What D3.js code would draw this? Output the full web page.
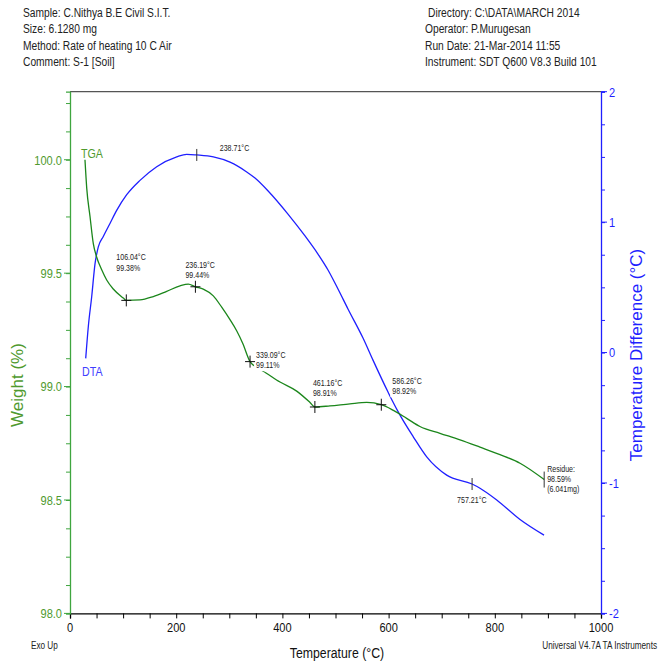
<!DOCTYPE html>
<html>
<head>
<meta charset="utf-8">
<script src="https://cdn.jsdelivr.net/npm/d3@7"></script>
<style>
  body { margin: 0; background: #fff; }
  svg { display: block; }
</style>
</head>
<body>
<svg id="chart" width="669" height="664"></svg>
<script>
// ---- TGA: weight (%) vs temperature (°C)
const tgaTemp = [28.2, 31.5, 37.7, 43.9, 50.3, 59.7, 69.1, 81.5, 100.4, 106.04, 131.8, 156.9, 182.1, 207.2, 222.8, 236.19, 251, 269.9, 285.7, 301.3, 314.1, 325.4, 339.09, 352, 369.1, 395.5, 426.9, 452, 461.16, 489.6, 527.3, 558.8, 586.26, 609, 634, 659, 696.8, 734.5, 772.1, 809.8, 847.5, 893];
const tgaWeight = [100.0, 99.875, 99.75, 99.63, 99.57, 99.515, 99.47, 99.43, 99.39, 99.38, 99.382, 99.397, 99.42, 99.444, 99.452, 99.44, 99.43, 99.40, 99.35, 99.295, 99.245, 99.19, 99.11, 99.085, 99.06, 99.02, 98.98, 98.93, 98.91, 98.915, 98.924, 98.93, 98.92, 98.895, 98.86, 98.824, 98.794, 98.765, 98.733, 98.70, 98.662, 98.59];

// ---- DTA: temperature difference (°C) vs temperature (°C)
const dtaTemp = [29.6, 34.5, 40.9, 47.1, 53.3, 62.7, 75.3, 87.9, 106.8, 131.8, 163.3, 201, 219.8, 238.71, 270, 301.3, 332.8, 348.4, 373.1, 410.5, 442.6, 467.0, 485.9, 504.7, 523.5, 551.8, 570.6, 598.9, 605.8, 621.5, 646.5, 671.8, 709.4, 757.21, 772.1, 803.6, 847.5, 892.7];
const dtaDiff = [-0.045, 0.20, 0.43, 0.68, 0.81, 0.89, 0.99, 1.09, 1.21, 1.32, 1.425, 1.50, 1.52, 1.515, 1.50, 1.46, 1.385, 1.338, 1.239, 1.062, 0.894, 0.755, 0.633, 0.487, 0.334, 0.111, -0.058, -0.303, -0.36, -0.48, -0.646, -0.80, -0.94, -1.008, -1.04, -1.13, -1.28, -1.40];

// ---- Axis ticks
const tempTicks = [0, 200, 400, 600, 800, 1000];
const weightTicks = [98.0, 98.5, 99.0, 99.5, 100.0];
const diffTicks = [-2, -1, 0, 1, 2];

// ---- Event annotations
const tgaEvents = [
  { t: 106.04, w: 99.38, lines: ["106.04°C", "99.38%"] },
  { t: 236.19, w: 99.44, lines: ["236.19°C", "99.44%"] },
  { t: 339.09, w: 99.11, lines: ["339.09°C", "99.11%"] },
  { t: 461.16, w: 98.91, lines: ["461.16°C", "98.91%"] },
  { t: 586.26, w: 98.92, lines: ["586.26°C", "98.92%"] }
];
const dtaEvents = [
  { t: 238.71, d: 1.515, lines: ["238.71°C"] },
  { t: 757.21, d: -1.008, lines: ["757.21°C"] }
];
const residue = { t: 893, w: 98.59, lines: ["Residue:", "98.59%", "(6.041mg)"] };

// ---- Header text
const headerLeft = ["Sample: C.Nithya B.E Civil S.I.T.", "Size:  6.1280 mg", "Method: Rate of heating 10 C Air", "Comment: S-1 [Soil]"];
const headerRight = ["Directory: C:\\DATA\\MARCH 2014", "Operator: P.Murugesan", "Run Date: 21-Mar-2014 11:55", "Instrument: SDT Q600 V8.3 Build 101"];

const SANS = "'Liberation Sans', Arial, sans-serif";
const NARROW_X = 0.82;           // horizontal squeeze giving an Arial-Narrow look
const GREEN_AXIS = "#3fa53f";
const GREEN_TEXT = "#4f9a2e";
const GREEN_LINE = "#1b861b";
const BLUE = "#1f1fff";

const svg = d3.select("#chart");
const L = 70, R = 601, T = 91.7, B = 613.4;

const x = d3.scaleLinear().domain([0, 1000]).range([L, R]);
const yW = d3.scaleLinear().domain([98, 100.3]).range([B, T]);
const yD = d3.scaleLinear().domain([-2, 2]).range([B, T]);

// condensed text placed at (px, py)
function ntext(parent, px, py, str, size, fill, anchor) {
  return parent.append("text")
    .attr("transform", `translate(${px},${py}) scale(${NARROW_X},1)`)
    .attr("text-anchor", anchor || "start")
    .attr("font-family", SANS).attr("font-size", size).attr("fill", fill).text(str);
}

// top frame line
svg.append("line").attr("x1", L).attr("x2", R).attr("y1", T).attr("y2", T)
  .attr("stroke", "#555").attr("stroke-width", 1.2);

// bottom temperature axis
const gx = svg.append("g").attr("transform", `translate(0,${B})`);
gx.call(d3.axisBottom(x).tickValues(d3.range(0, 1001, 50)).tickSize(5).tickFormat(""));
gx.select(".domain").attr("stroke", "#000").attr("stroke-width", 1.3);
gx.selectAll(".tick line").attr("stroke", "#000");
tempTicks.forEach(d => ntext(gx, x(d), 18.5, d, 13.5, "#111", "middle"));

// left weight axis
const gl = svg.append("g").attr("transform", `translate(${L},0)`);
gl.call(d3.axisLeft(yW).tickValues(d3.range(98, 100.3, 0.125)).tickSize(4).tickFormat(""));
gl.selectAll(".tick line").attr("stroke", GREEN_AXIS);
gl.select(".domain").attr("stroke", GREEN_AXIS).attr("stroke-width", 1.3);
gl.selectAll(".major").data(weightTicks).join("line")
  .attr("x1", -6).attr("x2", 0).attr("y1", d => yW(d)).attr("y2", d => yW(d)).attr("stroke", GREEN_AXIS);
weightTicks.forEach(d => ntext(gl, -8, yW(d) + 4.8, d.toFixed(1), 13.5, GREEN_TEXT, "end"));

// right DTA axis
const gr = svg.append("g").attr("transform", `translate(${R},0)`);
gr.call(d3.axisRight(yD).tickValues(d3.range(-2, 2.01, 0.25)).tickSize(4).tickFormat(""));
gr.selectAll(".tick line").attr("stroke", BLUE);
gr.select(".domain").attr("stroke", BLUE).attr("stroke-width", 1.3);
gr.selectAll(".major").data(diffTicks).join("line")
  .attr("x1", 0).attr("x2", 6).attr("y1", d => yD(d)).attr("y2", d => yD(d)).attr("stroke", BLUE);
diffTicks.forEach(d => ntext(gr, 8, yD(d) + 4.8, String(d), 13.5, BLUE, "start"));

// axis titles
svg.append("text").attr("transform", "translate(23,385) rotate(-90)").attr("text-anchor", "middle")
  .attr("font-family", SANS).attr("font-size", 17).attr("fill", GREEN_TEXT).text("Weight (%)");
svg.append("text").attr("transform", "translate(642,355) rotate(-90)").attr("text-anchor", "middle")
  .attr("font-family", SANS).attr("font-size", 17).attr("fill", BLUE).text("Temperature Difference (°C)");
ntext(svg, 337, 658, "Temperature (°C)", 15, "#111", "middle");
ntext(svg, 31, 649, "Exo Up", 10, "#222", "start");
ntext(svg, 657, 649, "Universal V4.7A TA Instruments", 10, "#222", "end");

// header
headerLeft.forEach((s, i) => ntext(svg, 23, 17 + i * 16.3, s, 12.5, "#222"));
headerRight.forEach((s, i) => ntext(svg, i === 0 ? 428 : 425, 17 + i * 16.3, s, 12.5, "#222"));

// curves
const tgaLine = d3.line().x(d => x(d[0])).y(d => yW(d[1])).curve(d3.curveMonotoneX);
const dtaLine = d3.line().x(d => x(d[0])).y(d => yD(d[1])).curve(d3.curveMonotoneX);
svg.append("path").datum(d3.zip(dtaTemp, dtaDiff)).attr("d", dtaLine)
  .attr("fill", "none").attr("stroke", BLUE).attr("stroke-width", 1.3);
svg.append("path").datum(d3.zip(tgaTemp, tgaWeight)).attr("d", tgaLine)
  .attr("fill", "none").attr("stroke", GREEN_LINE).attr("stroke-width", 1.3);

// curve names
ntext(svg, 81, 158, "TGA", 13, GREEN_TEXT);
ntext(svg, 82, 376, "DTA", 13, "#4040ff");

// annotation block with an opaque background behind its lines
function label(px, py, lines) {
  const g = svg.append("g");
  const bg = g.append("rect").attr("fill", "#fff");
  const lh = 10.3;
  lines.forEach((s, i) => ntext(g, px, py + i * lh, s, 8.6, "#222"));
  const bb = g.node().getBBox();
  bg.attr("x", px - 2).attr("y", py - 7.5).attr("width", bb.width + 3)
    .attr("height", lines.length * lh + 0.5);
}
function cross(px, py) {
  svg.append("path").attr("d", `M${px - 5},${py}H${px + 5}M${px},${py - 6}V${py + 6}`)
    .attr("stroke", "#111").attr("stroke-width", 1);
}
function vtick(px, py, h) {
  svg.append("path").attr("d", `M${px},${py - h}V${py + h}`).attr("stroke", "#333").attr("stroke-width", 1);
}

const tgaLabelPos = [[-10, -40], [-10, -19], [6, -4], [-2, -21], [11, -21]];
tgaEvents.forEach((e, i) => {
  label(x(e.t) + tgaLabelPos[i][0], yW(e.w) + tgaLabelPos[i][1], e.lines);
});
const dtaLabelPos = [[23, -4], [-15, 19]];
dtaEvents.forEach((e, i) => {
  const px = x(e.t), py = yD(e.d);
  label(px + dtaLabelPos[i][0], py + dtaLabelPos[i][1], e.lines);
  vtick(px, py, 6);
});
tgaEvents.forEach(e => cross(x(e.t), yW(e.w)));
label(x(residue.t) + 3, yW(residue.w) - 8, residue.lines);
vtick(x(residue.t), yW(residue.w), 8);
</script>
</body>
</html>
